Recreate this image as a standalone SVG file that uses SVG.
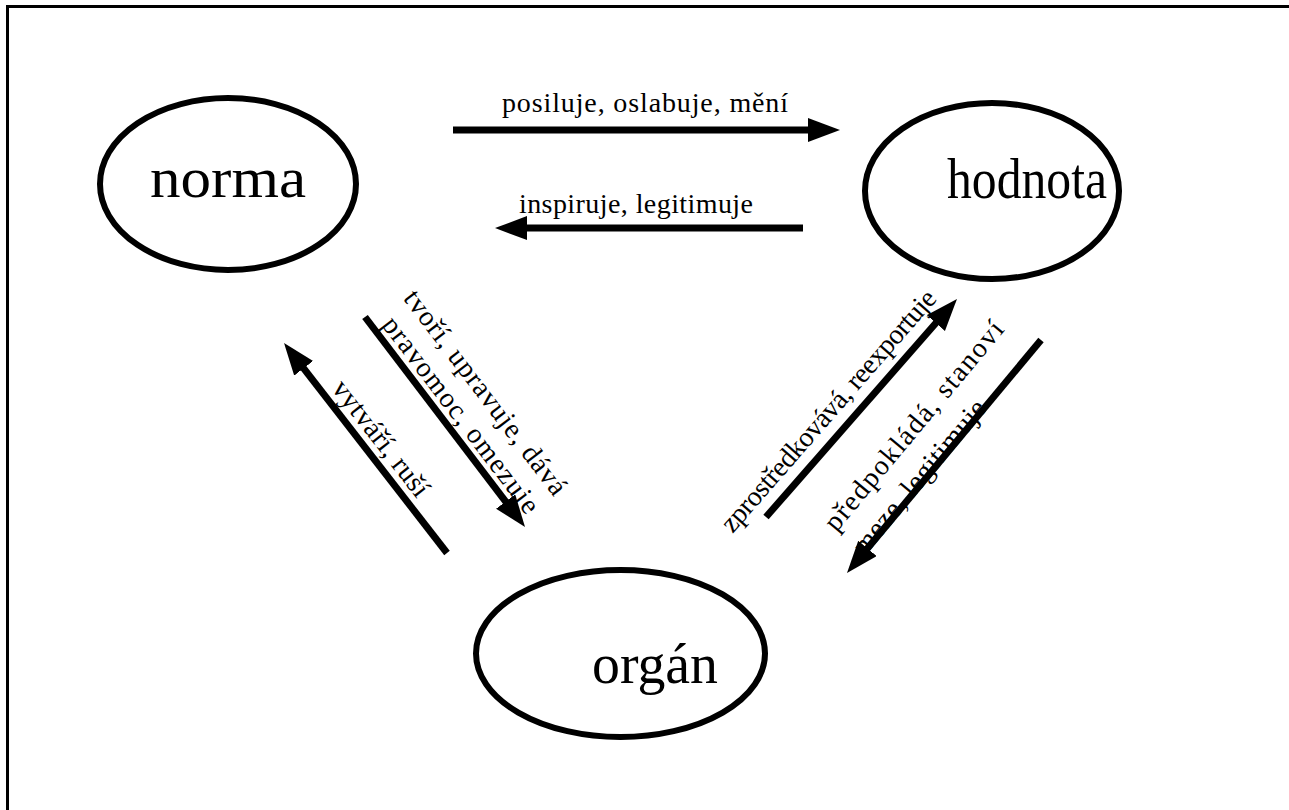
<svg xmlns="http://www.w3.org/2000/svg" width="1289" height="810" viewBox="0 0 1289 810">
<style>
.node{fill:#fff;stroke:#000;stroke-width:6}
.ntext{font-family:"Liberation Serif","Times New Roman",serif;font-size:57px;fill:#000;text-anchor:middle}
.lbl{font-family:"Liberation Serif","Times New Roman",serif;font-size:28px;fill:#000;text-anchor:middle}
.conn{stroke:#000;stroke-width:7;fill:none;marker-end:url(#ah)}
.frame{stroke:#000;stroke-width:3;fill:none}
</style>
<defs>
<marker id="ah" markerUnits="userSpaceOnUse" markerWidth="32" markerHeight="26" refX="12" refY="12" orient="auto">
<path d="M0,0 L32,12 L0,24 z" fill="#000"/>
</marker>
</defs>
<rect width="1289" height="810" fill="#fff"/>
<g id="frame">
<path class="frame" d="M7.5,810 V6.5 H1289"/>
</g>
<g id="node-norma">
<ellipse class="node" cx="228" cy="184" rx="128" ry="86"/>
<text class="ntext" x="228" y="197" textLength="156" lengthAdjust="spacingAndGlyphs">norma</text>
</g>
<g id="node-hodnota">
<ellipse class="node" cx="992" cy="191" rx="127" ry="88"/>
<text class="ntext" x="1027" y="198" textLength="160" lengthAdjust="spacingAndGlyphs">hodnota</text>
</g>
<g id="node-organ">
<ellipse class="node" cx="620.5" cy="653.5" rx="144.5" ry="83.5"/>
<text class="ntext" x="655" y="683" textLength="126" lengthAdjust="spacingAndGlyphs">orgán</text>
</g>
<g id="connectors">
<line class="conn" x1="453" y1="130" x2="820" y2="130"/>
<line class="conn" x1="803" y1="228" x2="515" y2="228"/>
<line class="conn" x1="447" y1="553" x2="296.3" y2="358.8"/>
<line class="conn" x1="365" y1="317" x2="512.9" y2="511.1"/>
<line class="conn" x1="766" y1="517" x2="943.8" y2="314"/>
<line class="conn" x1="1041" y1="340" x2="859.8" y2="557.6"/>
</g>
<g id="labels">
<text class="lbl" x="645" y="112" textLength="286">posiluje, oslabuje, mění</text>
<text class="lbl" x="636" y="213" textLength="234">inspiruje, legitimuje</text>
<g transform="translate(284,343) rotate(52.1)">
<text class="lbl" x="135" y="-9" textLength="140">vytváří, ruší</text>
</g>
<g transform="translate(365,317) rotate(52.7)">
<text class="lbl" x="133" y="-41" textLength="250">tvoří, upravuje, dává</text>
<text class="lbl" x="136" y="-8" textLength="240">pravomoc, omezuje</text>
</g>
<g transform="translate(766,517) rotate(-48.8)">
<text class="lbl" x="121" y="-14" textLength="312">zprostředkovává, reexportuje</text>
</g>
<g transform="translate(847,573) rotate(-50.2)">
<text class="lbl" x="156" y="-34" textLength="264">předpokládá, stanoví</text>
<text class="lbl" x="120" y="3" textLength="192">meze, legitimuje</text>
</g>
</g>
</svg>
